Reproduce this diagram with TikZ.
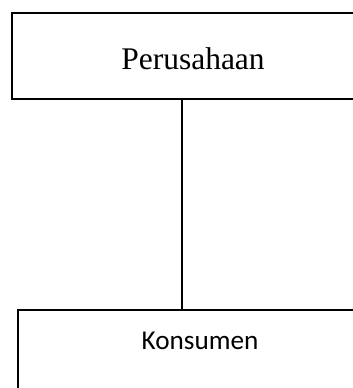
\documentclass[tikz,border=0pt]{standalone}
\usepackage{fontspec}
\setmainfont{Liberation Serif}
\newfontfamily\calibrisub{Carlito}
\usetikzlibrary{positioning}

\begin{document}
\begin{tikzpicture}[x=1pt, y=1pt, line width=1.2pt]
\tikzstyle{box}=[rectangle, draw, inner sep=0pt]
\useasboundingbox (0,0) rectangle (353,-388);
\node[box, minimum width=362pt, minimum height=86pt, text height=26pt, text depth=0pt,
  font=\fontsize{31.5}{36}\selectfont] (P) at (193,-56) {Perusahaan};
\node[box, minimum width=364pt, minimum height=100pt, text height=18pt, text depth=40pt,
  font=\calibrisub\fontsize{27.2}{32}\selectfont] (K) at (200,-360) {Konsumen};
\draw ([xshift=-11pt]P.south) -- ([xshift=-11pt]P.south |- K.north);
\end{tikzpicture}
\end{document}
